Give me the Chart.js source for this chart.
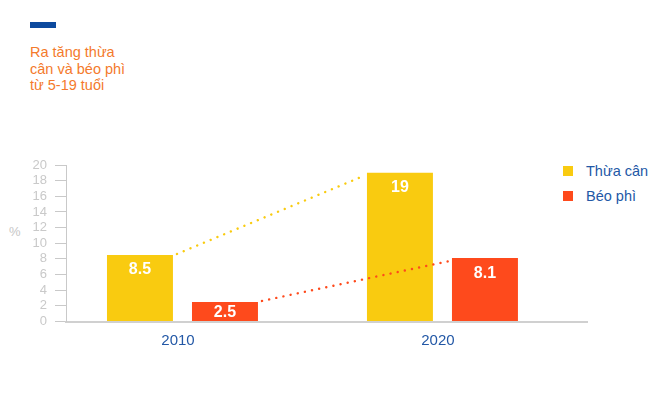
<!DOCTYPE html>
<html lang="vi">
<head>
    <meta charset="UTF-8">
    <meta name="viewport" content="width=device-width, initial-scale=1.0">
    <title>Ra tăng thừa cân và béo phì</title>
    <script src="https://cdn.jsdelivr.net/npm/chart.js"></script>
    <style>
        html, body {
            margin: 0;
            padding: 0;
            background: #fff;
        }

        body {
            position: relative;
            width: 659px;
            height: 412px;
            overflow: hidden;
            font-family: Arial, "Liberation Sans", sans-serif;
        }

        .mark {
            position: absolute;
            left: 30px;
            top: 22px;
            width: 26px;
            height: 6px;
            background: #0d4a9e;
        }

        .title {
            position: absolute;
            left: 30px;
            top: 44px;
            color: #f47a2c;
            font-size: 14.5px;
            line-height: 16.5px;
        }

        .unit {
            position: absolute;
            left: 9px;
            top: 224px;
            color: #c6c6c6;
            font-size: 13px;
        }

        .legend {
            position: absolute;
            left: 563px;
            top: 158px;
        }

        .legend-item {
            display: flex;
            align-items: center;
            height: 25px;
            color: #2358a6;
            font-size: 14.5px;
        }

        .legend-item .box {
            width: 10px;
            height: 10px;
            margin-right: 13px;
        }

        .chart-wrap {
            position: absolute;
            left: 0;
            top: 0;
            width: 659px;
            height: 412px;
        }
    </style>
</head>
<body>
    <div class="mark"></div>
    <div class="title">Ra tăng thừa<br>cân và béo phì<br>từ 5-19 tuổi</div>
    <div class="unit">%</div>
    <div class="legend" id="legend"></div>
    <div class="chart-wrap">
        <canvas id="chart"></canvas>
    </div>

    <script>
        // Data
        const years = [2010, 2020];
        const seriesNames = ['Thừa cân', 'Béo phì'];
        const overweight = [8.5, 19];
        const obesity = [2.5, 8.1];

        const colors = ['#f9cb10', '#fe4a1c'];
        const tickColor = '#c9c9c9';

        // HTML legend built from the series names
        const legend = document.getElementById('legend');
        seriesNames.forEach((name, i) => {
            const item = document.createElement('div');
            item.className = 'legend-item';
            item.innerHTML = `<span class="box" style="background:${colors[i]}"></span>${name}`;
            legend.appendChild(item);
        });

        // Dotted connectors between the tops of matching bars + values inside bars
        const barExtras = {
            id: 'barExtras',
            afterDatasetsDraw(chart) {
                const ctx = chart.ctx;
                chart.data.datasets.forEach((ds, di) => {
                    const bars = chart.getDatasetMeta(di).data;
                    const a = bars[0], b = bars[1];
                    ctx.save();
                    ctx.strokeStyle = ds.backgroundColor;
                    ctx.lineWidth = 2.4;
                    ctx.lineCap = 'round';
                    ctx.setLineDash([0.1, 7.2]);
                    ctx.beginPath();
                    ctx.moveTo(a.x + a.width / 2 + 4, a.y - 1);
                    ctx.lineTo(b.x - b.width / 2 - 3, b.y + 3);
                    ctx.stroke();
                    ctx.restore();
                });

                ctx.save();
                ctx.fillStyle = '#fff';
                ctx.font = 'bold 16px Arial, "Liberation Sans", sans-serif';
                ctx.textAlign = 'center';
                ctx.textBaseline = 'middle';
                chart.data.datasets.forEach((ds, di) => {
                    chart.getDatasetMeta(di).data.forEach((bar, i) => {
                        const y = Math.min(bar.y + 15, (bar.y + bar.base) / 2 + 1);
                        ctx.fillText(String(ds.data[i].y), bar.x, y);
                    });
                });
                ctx.restore();
            }
        };

        new Chart(document.getElementById('chart'), {
            type: 'bar',
            data: {
                datasets: [
                    {
                        label: seriesNames[0],
                        data: years.map((yr, i) => ({ x: yr, y: overweight[i] })),
                        backgroundColor: colors[0]
                    },
                    {
                        label: seriesNames[1],
                        data: years.map((yr, i) => ({ x: yr, y: obesity[i] })),
                        backgroundColor: colors[1]
                    }
                ]
            },
            plugins: [barExtras],
            options: {
                responsive: true,
                maintainAspectRatio: false,
                animation: false,
                events: [],
                categoryPercentage: 0.654,
                barPercentage: 0.776,
                layout: {
                    padding: { top: 165, left: 31, right: 72, bottom: 50.5 }
                },
                plugins: {
                    legend: { display: false },
                    tooltip: { enabled: false }
                },
                scales: {
                    x: {
                        type: 'linear',
                        offset: false,
                        min: 2005.52,
                        max: 2025.56,
                        afterBuildTicks: scale => {
                            scale.ticks = years.map(v => ({ value: v }));
                        },
                        afterFit: scale => { scale.height = 40; },
                        grid: { display: false, offset: false },
                        border: { display: true, color: '#d0d0d0', width: 2 },
                        ticks: {
                            padding: 2,
                            labelOffset: -4.5,
                            color: '#2358a6',
                            font: { family: 'Arial, "Liberation Sans", sans-serif', size: 15 },
                            callback: v => String(v)
                        }
                    },
                    y: {
                        min: 0,
                        max: 20,
                        afterFit: scale => { scale.width = 35; },
                        grid: {
                            drawOnChartArea: false,
                            drawTicks: true,
                            tickLength: 11,
                            color: tickColor
                        },
                        border: { display: true, color: tickColor, width: 1 },
                        ticks: {
                            stepSize: 2,
                            autoSkip: false,
                            padding: 8,
                            color: tickColor,
                            font: { family: 'Arial, "Liberation Sans", sans-serif', size: 13 }
                        }
                    }
                }
            }
        });
    </script>
</body>
</html>
